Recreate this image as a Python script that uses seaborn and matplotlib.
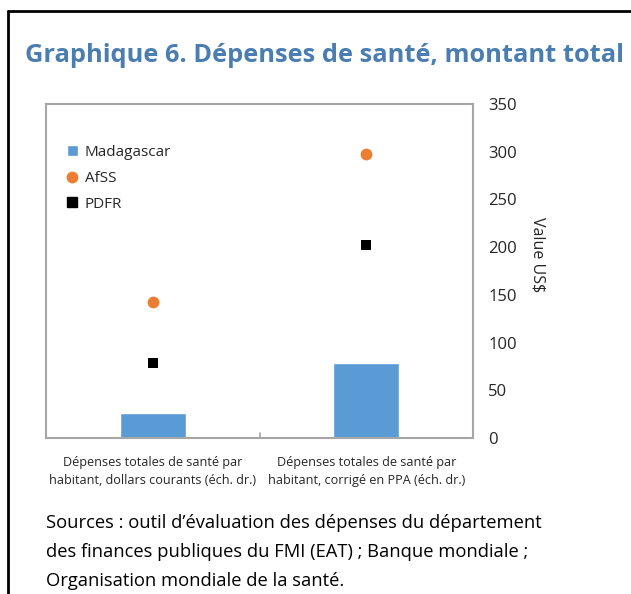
import numpy as np
import pandas as pd
import matplotlib
matplotlib.use("Agg")
import matplotlib.pyplot as plt
import seaborn as sns
from matplotlib.lines import Line2D
from matplotlib.patches import Patch

# Données
categories = ["Dépenses totales de santé par\nhabitant, dollars courants (éch. dr.)",
              "Dépenses totales de santé par\nhabitant, corrigé en PPA (éch. dr.)"]
madagascar = [26, 79]
afss = [143, 298]
pdfr = [79, 202]

df = pd.DataFrame({"cat": categories, "Madagascar": madagascar, "AfSS": afss, "PDFR": pdfr})

sns.set_style("white")
plt.rcParams["font.family"] = ["Open Sans", "DejaVu Sans"]

fig = plt.figure(figsize=(6.31, 5.94), dpi=100)
ax = fig.add_axes([46 / 631, 1 - 438 / 594, 427 / 631, 334 / 594])

sns.barplot(data=df, x="cat", y="Madagascar", order=categories, color="#5b9bd5",
            width=0.31, saturation=1, ax=ax)
sns.stripplot(data=df, x="cat", y="AfSS", order=categories, jitter=False, color="#ed7d31",
              marker="o", size=8.5, linewidth=0, ax=ax)
sns.stripplot(data=df, x="cat", y="PDFR", order=categories, jitter=False, color="black",
              marker="s", size=6.5, linewidth=0, ax=ax)

ax.set_xlim(-0.5, 1.5)
ax.set_ylim(0, 350)
ax.set_yticks(np.arange(0, 351, 50))
ax.yaxis.tick_right()
ax.yaxis.set_label_position("right")
ax.set_ylabel("Value US$", rotation=270, fontsize=11.5)
ax.yaxis.set_label_coords(1.17, 0.55)
ax.set_xlabel("")
ax.tick_params(axis="y", length=0, labelsize=12, pad=11)
ax.tick_params(axis="x", length=0, labelsize=9.1, pad=13)
for lab in ax.get_xticklabels():
    lab.set_linespacing(1.5)
for s in ax.spines.values():
    s.set_color("#a6a6a6")
    s.set_linewidth(1.5)
# petit trait au milieu de l'axe x
ax.plot([0.5, 0.5], [0, 5], color="#a6a6a6", lw=1.2, clip_on=False)

handles = [Patch(facecolor="#5b9bd5", label="Madagascar"),
           Line2D([], [], marker="o", color="#ed7d31", linestyle="", markersize=7.5, label="AfSS"),
           Line2D([], [], marker="s", color="black", linestyle="", markersize=6.5, label="PDFR")]
ax.legend(handles=handles, loc="upper left", bbox_to_anchor=(0.035, 0.895), frameon=False,
          fontsize=11, handlelength=0.7, handleheight=0.7, handletextpad=0.45,
          labelspacing=0.7, borderaxespad=0)

fig.text(25 / 631, 1 - 56 / 594, "Graphique 6. Dépenses de santé, montant total",
         fontsize=18.3, fontweight="bold", color="#4a7eb0", va="center", ha="left")

fig.text(46 / 631, 1 - 514 / 594,
         "Sources : outil d’évaluation des dépenses du département\n"
         "des finances publiques du FMI (EAT) ; Banque mondiale ;\n"
         "Organisation mondiale de la santé.",
         fontsize=13.2, color="black", va="top", ha="left", linespacing=1.8)

# cadre noir en haut et à gauche
fig.add_artist(Line2D([8 / 631, 8 / 631], [0, 1 - 11 / 594], color="black", lw=2))
fig.add_artist(Line2D([8 / 631, 1], [1 - 11 / 594, 1 - 11 / 594], color="black", lw=2))

fig.savefig("out.png", dpi=100)
